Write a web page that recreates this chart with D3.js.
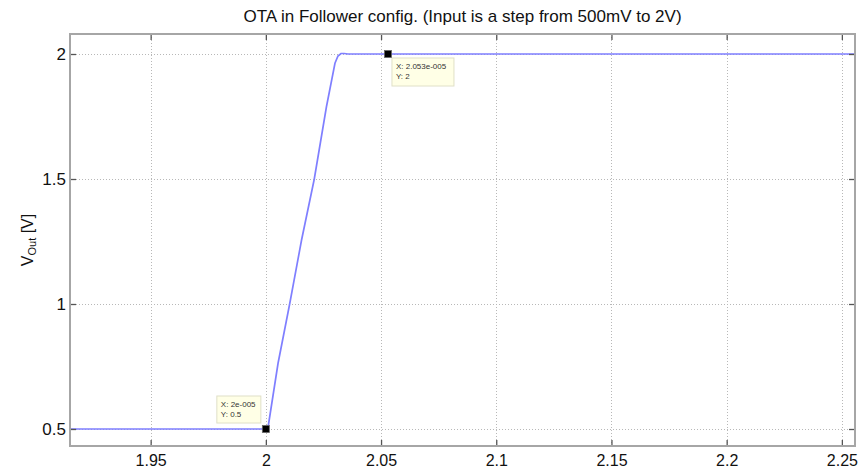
<!DOCTYPE html>
<html>
<head>
<meta charset="utf-8">
<script src="https://cdn.jsdelivr.net/npm/d3@7"></script>
<style>
  html, body { margin: 0; padding: 0; background: #fff; }
  svg { display: block; font-family: "Liberation Sans", Arial, sans-serif; }
</style>
</head>
<body>
<svg id="chart" width="859" height="472"></svg>
<script>
// ---- data ----
const title = "OTA in Follower config. (Input is a step from 500mV to 2V)";
const timeX = [1.915, 2.000, 2.001, 2.0053, 2.0104, 2.0155, 2.021, 2.0263, 2.030, 2.0313, 2.0326, 2.034, 2.0356, 2.2557];
const vOut  = [0.5,   0.5,   0.509, 0.763,  1.003,  1.256,  1.499, 1.789,  1.963, 1.992,  2.002,  2.002, 2.0,    2.0];
const xTicks = [1.95, 2, 2.05, 2.1, 2.15, 2.2, 2.25];
const yTicks = [0.5, 1, 1.5, 2];
const tipX = [2.0, 2.053];
const tipY = [0.5, 2];
const tipText = [["X: 2e-005", "Y: 0.5"], ["X: 2.053e-005", "Y: 2"]];

// ---- layout ----
const L = 70, R = 855, T = 34, B = 446;
const svg = d3.select("#chart");
const x = d3.scaleLinear().domain([1.915, 2.2557]).range([L, R]);
const y = d3.scaleLinear().domain([0.432, 2.08]).range([B, T]);

// background
svg.append("rect").attr("x", L).attr("y", T).attr("width", R - L).attr("height", B - T).attr("fill", "#fff");

// grid
const grid = svg.append("g").attr("stroke", "#b8b8b8").attr("stroke-width", 1).attr("stroke-dasharray", "1,2");
grid.selectAll(".gx").data(xTicks).enter().append("line")
  .attr("x1", d => Math.round(x(d)) + 0.5).attr("x2", d => Math.round(x(d)) + 0.5)
  .attr("y1", T).attr("y2", B);
grid.selectAll(".gy").data(yTicks).enter().append("line")
  .attr("y1", d => Math.round(y(d)) + 0.5).attr("y2", d => Math.round(y(d)) + 0.5)
  .attr("x1", L).attr("x2", R);

// line
const line = d3.line().x((d, i) => x(timeX[i])).y(d => y(d));
svg.append("path").datum(vOut).attr("d", line)
  .attr("fill", "none").attr("stroke", "#7f7fff").attr("stroke-width", 1.7);

// axes (inner ticks)
const axStyle = g => {
  g.select(".domain").remove();
  g.selectAll(".tick line").attr("stroke", "#555").attr("stroke-width", 1.3);
  g.selectAll(".tick text").attr("fill", "#111").attr("font-size", 17).attr("font-family", "Liberation Sans, Arial, sans-serif");
};
const xb = svg.append("g").attr("transform", `translate(0,${B})`)
  .call(d3.axisBottom(x).tickValues(xTicks).tickFormat(d3.format("")).tickSizeInner(-6).tickPadding(9))
  .call(axStyle);
xb.selectAll(".tick text").attr("font-size", 16);
svg.append("g").attr("transform", `translate(0,${T})`)
  .call(d3.axisTop(x).tickValues(xTicks).tickFormat("").tickSizeInner(-6))
  .call(axStyle);
svg.append("g").attr("transform", `translate(${L},0)`)
  .call(d3.axisLeft(y).tickValues(yTicks).tickFormat(d3.format("")).tickSizeInner(-6).tickPadding(4))
  .call(axStyle);
svg.append("g").attr("transform", `translate(${R},0)`)
  .call(d3.axisRight(y).tickValues(yTicks).tickFormat("").tickSizeInner(-6))
  .call(axStyle);

// frame
svg.append("rect").attr("x", L).attr("y", T).attr("width", R - L).attr("height", B - T)
  .attr("fill", "none").attr("stroke", "#a6a6a6").attr("stroke-width", 2);

// data tips
const tipBox = [
  {dx: -49, dy: -33, w: 44, h: 27},
  {dx: 4, dy: 4, w: 62, h: 28}
];
tipX.forEach((tx, i) => {
  const px = x(tx), py = y(tipY[i]);
  const b = tipBox[i];
  const g = svg.append("g");
  g.append("rect").attr("x", px + b.dx).attr("y", py + b.dy).attr("width", b.w).attr("height", b.h)
    .attr("fill", "#ffffe6").attr("stroke", "#e0e0c8").attr("stroke-width", 1);
  tipText[i].forEach((t, j) => {
    g.append("text").attr("x", px + b.dx + 4).attr("y", py + b.dy + 11 + j * 10)
      .attr("font-size", 8).attr("fill", "#333").text(t);
  });
  svg.append("rect").attr("x", px - 3.5).attr("y", py - 3.5).attr("width", 7).attr("height", 7)
    .attr("fill", "#000").attr("stroke", "#666").attr("stroke-width", 0.8);
});

// title
svg.append("text").attr("x", (L + R) / 2).attr("y", 22).attr("text-anchor", "middle")
  .attr("font-size", 17).attr("fill", "#111").text(title);

// y label
const yl = svg.append("text").attr("transform", `translate(33,${(T + B) / 2}) rotate(-90)`)
  .attr("text-anchor", "middle").attr("font-size", 16).attr("fill", "#111");
yl.append("tspan").text("V");
yl.append("tspan").attr("font-size", 11).attr("dy", 3).text("Out");
yl.append("tspan").attr("dy", -3).text(" [V]");
</script>
</body>
</html>
